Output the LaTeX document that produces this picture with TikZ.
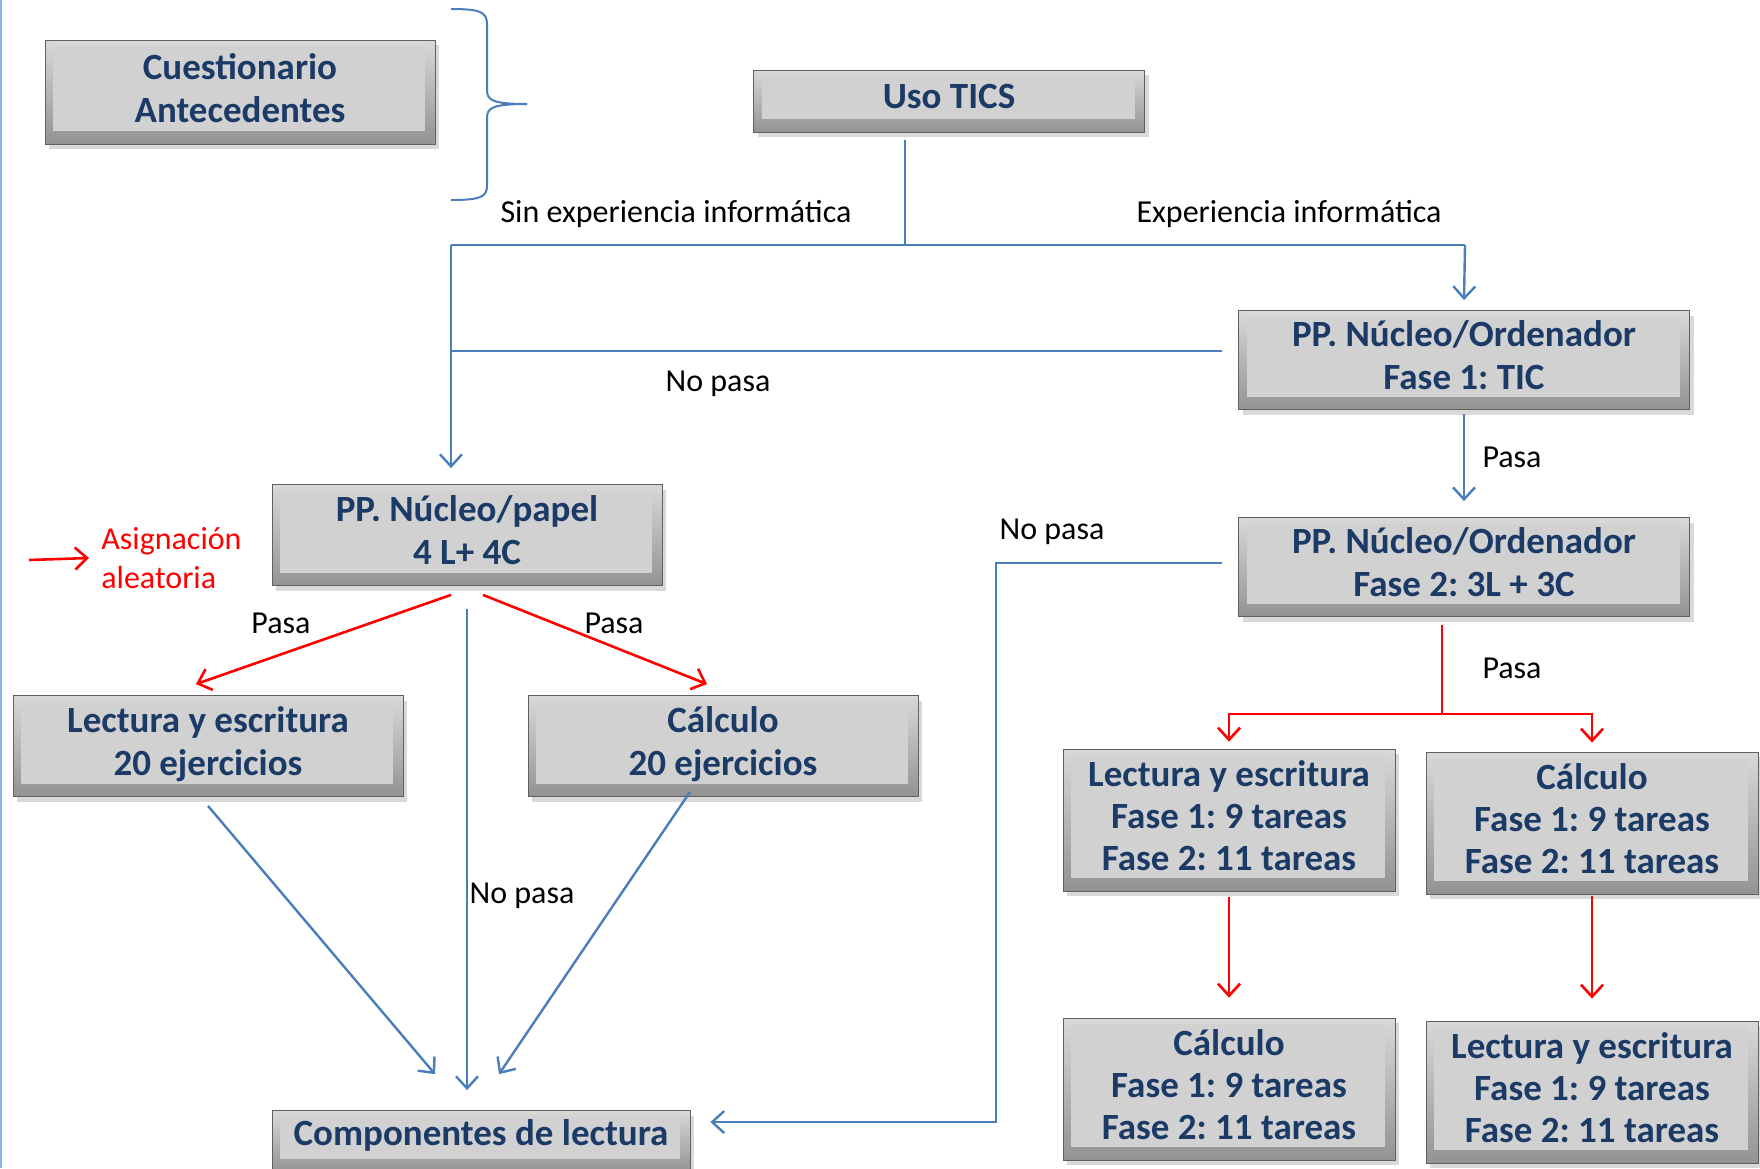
\documentclass[tikz,border=0pt]{standalone}
\usepackage{fontspec}
\setmainfont{Carlito}
\usetikzlibrary{arrows.meta, shadows}
\frenchspacing

\definecolor{boxblue}{HTML}{1B3A66}
\definecolor{lineblue}{HTML}{4A7EBB}
\definecolor{edgeblue}{HTML}{8EB4E3}

\newcommand{\boxfont}{\fontsize{18.5}{21.5}\selectfont\bfseries}
\newcommand{\tallfont}{\fontsize{18.5}{20.8}\selectfont\bfseries}
\newcommand{\labfont}{\fontsize{16}{19.5}\selectfont}

\tikzstyle{tbox} = [rectangle, draw=gray!75!black, line width=0.4pt, top color=gray!30, bottom color=gray!85,
  drop shadow={shadow xshift=2pt, shadow yshift=-2.5pt, opacity=0.3},
  path picture={\fill[gray!36] ([shift={(4pt,-3pt)}]path picture bounding box.north west) rectangle ([shift={(-5pt,6.5pt)}]path picture bounding box.south east);},
  text=boxblue, font=\boxfont, align=center, inner sep=0pt, text depth=4.5pt]
\tikzstyle{wide} = [minimum width=195pt, minimum height=50.5pt]
\tikzstyle{tall} = [minimum width=166pt, minimum height=71pt, font=\tallfont]
\tikzstyle{lab} = [font=\labfont, inner sep=0pt]
\tikzstyle{bline} = [line width=1.2pt, lineblue]
\tikzstyle{barrow} = [bline, -{Straight Barb[length=6pt,width=11pt]}]
\tikzstyle{rline} = [line width=1.3pt, red]
\tikzstyle{rarrow} = [rline, -{Straight Barb[length=6pt,width=11pt]}]

\begin{document}
\begin{tikzpicture}[x=0.5pt, y=-0.5pt]
        \useasboundingbox (0,0) rectangle (1760,1168);
        \draw[edgeblue, line width=1pt] (1,0) -- (1,1168);
        % \draw[step=100,gray,very thin] (0,0) grid (1760,1168);
        \node[tbox, minimum width=195pt, minimum height=52pt] (cuest) at (240,92) {Cuestionario\\Antecedentes};
        \node[tbox, minimum width=195.5pt, minimum height=31pt] (uso) at (949,101) {Uso TICS};
        \node[tbox, minimum width=225.5pt, minimum height=49.5pt] (ord1) at (1464,360) {PP. Núcleo/Ordenador\\Fase 1: TIC};
        \node[tbox, minimum width=225.5pt, minimum height=49.5pt] (ord2) at (1464,567) {PP. Núcleo/Ordenador\\Fase 2: 3L + 3C};
        \node[tbox, wide] (papel) at (467,535) {PP. Núcleo/papel\\4 L+ 4C};
        \node[tbox, wide] (lect) at (208,746) {Lectura y escritura\\20 ejercicios};
        \node[tbox, wide] (calc) at (723,746) {Cálculo\\20 ejercicios};
        \node[tbox, minimum width=209pt, minimum height=30.5pt, text depth=9pt] (comp) at (481,1141) {Componentes de lectura};
        \node[tbox, tall] (lf1) at (1229,820) {Lectura y escritura\\Fase 1: 9 tareas\\Fase 2: 11 tareas};
        \node[tbox, tall] (cf1) at (1592,823) {Cálculo\\Fase 1: 9 tareas\\Fase 2: 11 tareas};
        \node[tbox, tall] (cf2) at (1229,1089) {Cálculo\\Fase 1: 9 tareas\\Fase 2: 11 tareas};
        \node[tbox, tall] (lf2) at (1592,1092) {Lectura y escritura\\Fase 1: 9 tareas\\Fase 2: 11 tareas};

        \draw[bline, line width=1pt] (451,9) .. controls (480,9) and (487,12) .. (487,24) -- (487,90) .. controls (487,100) and (492,104) .. (527,104);
        \draw[bline, line width=1pt] (527,104) .. controls (492,104) and (487,108) .. (487,118) -- (487,186) .. controls (487,197) and (480,200) .. (451,200);

        \coordinate (j1) at (905,245);
        \coordinate (jl) at (451,245);
        \coordinate (jr) at (1465,245);
        \coordinate (np1) at (451,351);
        \coordinate (np2) at (996,563);
        \coordinate (np3) at (996,1122);
        \coordinate (rj) at (1442,714);
        \coordinate (asigin) at (29,560);

        \draw[bline] ([yshift=-4pt]uso.south -| j1) -- (j1);
        \draw[bline] (jl) -- (jr);
        \draw[barrow] (jr) -- ([yshift=5pt]ord1.north);
        \draw[barrow] (jl) -- ([yshift=8pt]jl |- papel.north);
        \draw[bline] ([xshift=-8pt]np1 -| ord1.west) -- (np1);
        \draw[barrow] ([yshift=-2pt]ord1.south) -- ([yshift=8pt]ord2.north);
        \draw[barrow] ([xshift=-8pt]np2 -| ord2.west) -- (np2) -- (np3) -- ([xshift=10pt]np3 -| comp.east);
        \draw[rline] ([yshift=-4pt]ord2.south -| rj) -- (rj);
        \draw[rarrow] (rj) -| ([yshift=3.5pt]lf1.north);
        \draw[rarrow] (rj) -| ([yshift=4.5pt]cf1.north);
        \draw[rarrow] ([yshift=-3pt]lf1.south) -- ([yshift=10pt]cf2.north);
        \draw[rarrow] ([yshift=-1pt]cf1.south) -- ([yshift=11pt]lf2.north);
        \draw[rarrow] ([shift={(-8pt,-4.5pt)}]papel.south) -- ([shift={(-6pt,5.5pt)}]lect.north);
        \draw[rarrow] ([shift={(8pt,-4.5pt)}]papel.south) -- ([shift={(-8pt,5.5pt)}]calc.north);
        \draw[barrow] ([yshift=-11.5pt]papel.south) -- ([yshift=10pt]papel.south |- comp.north);
        \draw[barrow] ([yshift=-4.5pt]lect.south) -- ([shift={(-23pt,18pt)}]comp.north);
        \draw[barrow] ([shift={(-16.5pt,2.5pt)}]calc.south) -- ([shift={(9pt,18pt)}]comp.north);

        \node[lab, red, align=left, anchor=west] (asig) at (101,558) {Asignación\\aleatoria};
        \draw[rarrow] (asigin) -- ([xshift=-6pt]asig.west);

        \node[lab] (lsin) at (676,214) {Sin experiencia informática};
        \node[lab] (lexp) at (1289,214) {Experiencia informática};
        \node[lab] (lnp1) at (718,384) {No pasa};
        \node[lab] (lp1) at (1512,457) {Pasa};
        \node[lab] (lnp2) at (1052,532) {No pasa};
        \node[lab] (lp2) at (1512,668) {Pasa};
        \node[lab] (lp3) at (281,623) {Pasa};
        \node[lab] (lp4) at (614,623) {Pasa};
        \node[lab] (lnp3) at (522,896) {No pasa};
\end{tikzpicture}
\end{document}
